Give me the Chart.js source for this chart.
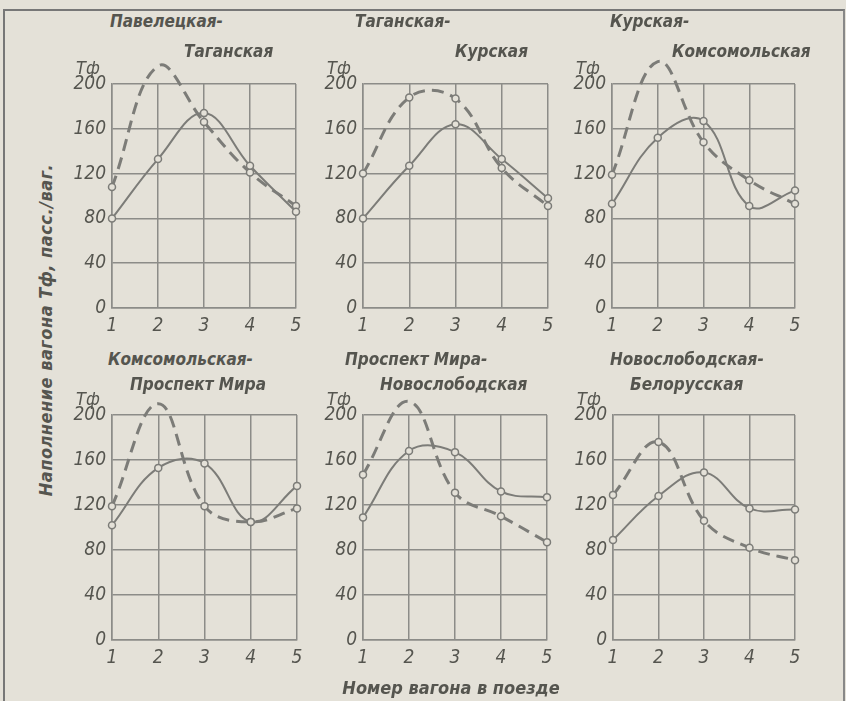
<!DOCTYPE html>
<html>
<head>
<meta charset="utf-8">
<script src="https://cdn.jsdelivr.net/npm/chart.js@4.4.1/dist/chart.umd.min.js"></script>
<style>
  body { margin: 0; background: #e4e1d8; width: 846px; height: 701px; overflow: hidden; position: relative; }
  .frame { position: absolute; left: 3px; top: 9px; width: 838px; height: 700px; border-left: 2px solid #777; border-top: 2px solid #777; border-right: 2px solid #888; }
  .t { position: absolute; font-family: "Liberation Sans Narrow", "DejaVu Sans Condensed", "Liberation Sans", sans-serif; font-style: italic; font-weight: bold; font-size: 17px; color: #55554f; white-space: nowrap; line-height: 1; }
  .u { position: absolute; font-family: "Liberation Sans Narrow", "DejaVu Sans Condensed", "Liberation Sans", sans-serif; font-style: italic; font-size: 18px; color: #55554f; white-space: nowrap; line-height: 1; }
  canvas { position: absolute; }
</style>
</head>
<body>
<div class="frame"></div>
<script>
// Номер вагона и деления оси Тф
const cars = ['1', '2', '3', '4', '5'];
const yTicks = [0, 40, 80, 120, 160, 200];

// Названия перегонов (две строки)
const titles = [
  ['Павелецкая-', 'Таганская'],
  ['Таганская-', 'Курская'],
  ['Курская-', 'Комсомольская'],
  ['Комсомольская-', 'Проспект Мира'],
  ['Проспект Мира-', 'Новослободская'],
  ['Новослободская-', 'Белорусская']
];

// Наполнение вагона, сплошная и штриховая кривые
const pavTagSolid = [80, 133, 174, 127, 86];
const pavTagDashed = [108, 216, 166, 121, 91];
const tagKurSolid = [80, 127, 164, 133, 98];
const tagKurDashed = [120, 188, 187, 125, 91];
const kurKomSolid = [93, 152, 167, 91, 105];
const kurKomDashed = [119, 220, 148, 114, 93];
const komPrSolid = [102, 153, 157, 105, 137];
const komPrDashed = [119, 210, 119, 105, 117];
const prNovSolid = [109, 168, 167, 132, 127];
const prNovDashed = [147, 212, 131, 110, 87];
const novBelSolid = [89, 128, 149, 117, 116];
const novBelDashed = [129, 176, 106, 82, 71];

const solids = [pavTagSolid, tagKurSolid, kurKomSolid, komPrSolid, prNovSolid, novBelSolid];
const dashes = [pavTagDashed, tagKurDashed, kurKomDashed, komPrDashed, prNovDashed, novBelDashed];

// области построения (левый, верх, правый, низ)
const areas = [
  [112, 84, 296, 308], [363, 84, 548, 308], [612, 84, 795, 308],
  [112, 415, 297, 640], [363, 415, 547, 640], [613, 415, 795, 640]
];
const titlePos = [
  [[110, 13], [184, 43]], [[355, 13], [455, 43]], [[610, 13], [672, 43]],
  [[108, 351], [130, 376]], [[345, 351], [380, 376]], [[610, 351], [630, 376]]
];

const BG = '#e4e1d8';
const INK = '#55554f';
const GRID = '#8c8c88';
const LINE = '#7c7c78';
const FONT = '"Liberation Sans Narrow", "DejaVu Sans Condensed", "Liberation Sans", sans-serif';

const YW = 56, PT = 40, XH = 34, PR = 14;

function addText(cls, txt, x, y) {
  const d = document.createElement('div');
  d.className = cls;
  d.textContent = txt;
  d.style.left = x + 'px';
  d.style.top = y + 'px';
  document.body.appendChild(d);
  return d;
}

areas.forEach(function (a, i) {
  const cv = document.createElement('canvas');
  const w = a[2] - a[0] + YW + PR;
  const h = a[3] - a[1] + PT + XH;
  cv.width = w; cv.height = h;
  cv.style.left = (a[0] - YW) + 'px';
  cv.style.top = (a[1] - PT) + 'px';
  cv.style.width = w + 'px';
  cv.style.height = h + 'px';
  document.body.appendChild(cv);

  addText('t', titles[i][0], titlePos[i][0][0], titlePos[i][0][1]);
  addText('t', titles[i][1], titlePos[i][1][0], titlePos[i][1][1]);
  addText('u', 'Тф', a[0] - 36, a[1] - 25);

  new Chart(cv.getContext('2d'), {
    type: 'line',
    data: {
      labels: cars,
      datasets: [{
        data: solids[i],
        borderColor: LINE,
        borderWidth: 2,
        tension: 0.4,
        clip: false,
        pointRadius: 3.5,
        pointBackgroundColor: BG,
        pointBorderColor: LINE,
        pointBorderWidth: 1.5
      }, {
        data: dashes[i],
        borderColor: LINE,
        borderWidth: 3,
        borderDash: [12, 7],
        tension: 0.4,
        clip: false,
        pointRadius: 3.5,
        pointBackgroundColor: BG,
        pointBorderColor: LINE,
        pointBorderWidth: 1.5
      }]
    },
    options: {
      responsive: false,
      animation: false,
      layout: { padding: { left: 0, right: PR, top: PT, bottom: 0 } },
      plugins: { legend: { display: false }, tooltip: { enabled: false } },
      scales: {
        x: {
          offset: false,
          grid: { color: GRID, lineWidth: 1.5, drawTicks: false },
          border: { color: GRID, width: 1.5 },
          ticks: { color: INK, padding: 7, maxRotation: 0, font: { family: FONT, size: 19, style: 'italic' } },
          afterFit: function (s) { s.height = XH; s.paddingLeft = 0; s.paddingRight = 0; }
        },
        y: {
          min: 0,
          max: 200,
          afterBuildTicks: function (s) { s.ticks = yTicks.map(function (v) { return { value: v }; }); },
          grid: { color: GRID, lineWidth: 1.5, drawTicks: false },
          border: { color: GRID, width: 1.5 },
          ticks: { color: INK, padding: 6, font: { family: FONT, size: 19, style: 'italic' } },
          afterFit: function (s) { s.width = YW; s.paddingTop = 0; s.paddingBottom = 0; }
        }
      }
    }
  });
});

// подписи осей
const yt = addText('u', 'Наполнение вагона Тф, пасс./ваг.', 0, 0);
yt.style.fontWeight = 'bold';
yt.style.fontSize = '18px';
yt.style.letterSpacing = '0.5px';
yt.style.left = '46px';
yt.style.top = '330px';
yt.style.transform = 'translate(-50%, -50%) rotate(-90deg)';
const xt = addText('u', 'Номер вагона в поезде', 0, 0);
xt.style.fontWeight = 'bold';
xt.style.fontSize = '18px';
xt.style.left = '451px';
xt.style.top = '688px';
xt.style.transform = 'translate(-50%, -50%)';
</script>
</body>
</html>
